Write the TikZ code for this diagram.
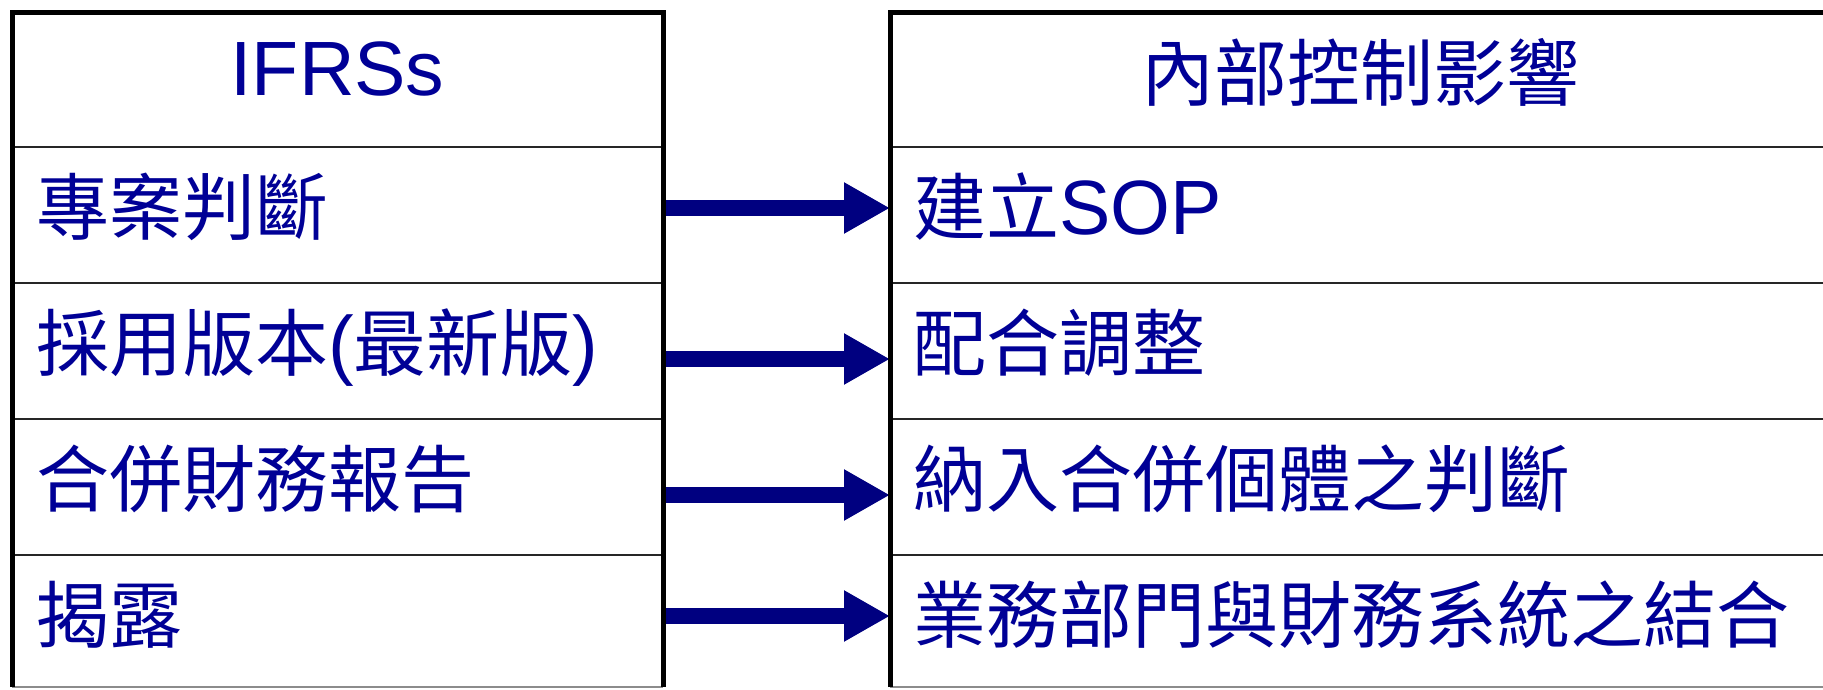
\documentclass[tikz,border=0pt]{standalone}
\usepackage{fontspec}
\usepackage{xcolor}
\usepackage{tikz}
\usetikzlibrary{arrows.meta}
\setmainfont{Liberation Sans}
\newfontfamily\cjk{Noto Sans CJK TC}
\definecolor{ifrsblue}{RGB}{0,0,150}
\definecolor{arrowblue}{RGB}{0,0,128}
\newcommand{\zhtext}[1]{{\cjk\fontsize{73}{80}\selectfont #1}}
\newcommand{\entext}[1]{{\fontsize{77}{80}\selectfont #1}}

\begin{document}
\begin{tikzpicture}[x=1pt, y=-1pt]
\tikzstyle{lcell}=[rectangle, inner sep=0pt, outer sep=0pt,
                   minimum width=651pt, minimum height=136pt]
\tikzstyle{rcell}=[lcell, minimum width=940pt]
\tikzstyle{txt}=[inner sep=0pt, anchor=base west, text=ifrsblue]
\tikzstyle{frame}=[line width=5pt, black, line join=miter]
\tikzstyle{rowline}=[line width=2.5pt, black!85]
\tikzstyle{cutline}=[line width=2pt, black!45]
\tikzstyle{bigarrow}=[arrowblue, line width=16pt,
                      -{Triangle[length=46pt, width=48pt]}]
\useasboundingbox (0,0) rectangle (1823,689);

% IFRSs column
\node[lcell, minimum height=135pt] (lh) at (337.5,79.5) {};
\node[lcell] (l1) at (337.5,215) {};
\node[lcell] (l2) at (337.5,351) {};
\node[lcell] (l3) at (337.5,487) {};
\node[lcell, minimum height=132pt] (l4) at (337.5,621) {};
% internal control column
\node[rcell, minimum height=135pt] (rh) at (1360,79.5) {};
\node[rcell] (r1) at (1360,215) {};
\node[rcell] (r2) at (1360,351) {};
\node[rcell] (r3) at (1360,487) {};
\node[rcell, minimum height=132pt] (r4) at (1360,621) {};

% texts
\node[txt, anchor=base] (ifrs) at (337.5,95) {\entext{IFRSs}};
\node[txt, anchor=base] (ctrl) at (1360,100) {\zhtext{內部控制影響}};
\node[txt] (s1) at (36,234) {\zhtext{專案判斷}};
\node[txt] (s2) at (36,370) {\zhtext{採用版本}\entext{(}\zhtext{最新版}\entext{)}};
\node[txt] (s3) at (36,506) {\zhtext{合併財務報告}};
\node[txt] (s4) at (36,642) {\zhtext{揭露}};
\node[txt] (e1) at (913,234) {\zhtext{建立}\entext{SOP}};
\node[txt] (e2) at (913,370) {\zhtext{配合調整}};
\node[txt] (e3) at (913,506) {\zhtext{納入合併個體之判斷}};
\node[txt] (e4) at (913,642) {\zhtext{業務部門與財務系統之結合}};

% arrows between the rows
\draw[bigarrow] ([yshift=7pt]l1.east) -- ([yshift=7pt]r1.west);
\draw[bigarrow] ([yshift=-8pt]l2.east) -- ([yshift=-8pt]r2.west);
\draw[bigarrow] ([yshift=-8pt]l3.east) -- ([yshift=-8pt]r3.west);
\draw[bigarrow] ([yshift=5pt]l4.east) -- ([yshift=5pt]r4.west);

% row lines, then the heavy frames on top
\foreach \n in {lh,l1,l2,l3,rh,r1,r2,r3}
  \draw[rowline] (\n.south west) -- (\n.south east);
\draw[cutline] (l4.south west) -- (l4.south east);
\draw[cutline] (r4.south west) -- (r4.south east);
\draw[frame] (l4.south west) -- (lh.north west) -- (lh.north east) -- (l4.south east);
\draw[frame] (r4.south west) -- (rh.north west) -- (rh.north east);
\end{tikzpicture}
\end{document}
